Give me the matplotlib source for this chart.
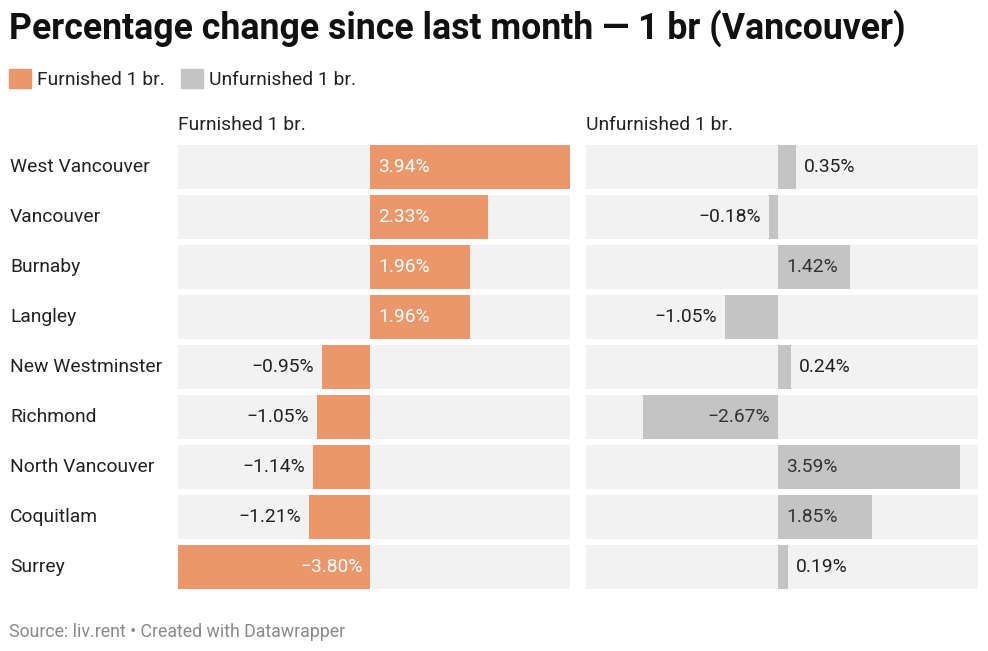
import matplotlib
matplotlib.use("Agg")
import matplotlib.pyplot as plt
from matplotlib.patches import Patch

plt.rcParams['font.family'] = ['Roboto', 'DejaVu Sans']

cities = ["West Vancouver", "Vancouver", "Burnaby", "Langley", "New Westminster",
          "Richmond", "North Vancouver", "Coquitlam", "Surrey"]
furnished = [3.94, 2.33, 1.96, 1.96, -0.95, -1.05, -1.14, -1.21, -3.80]
unfurnished = [0.35, -0.18, 1.42, -1.05, 0.24, -2.67, 3.59, 1.85, 0.19]
series_names = ["Furnished 1 br.", "Unfurnished 1 br."]

ORANGE = "#E9976B"
GRAY = "#C4C4C4"
BG = "#F2F2F2"
TXT = "#222222"
FS = 13.9

W, H = 988, 651
fig = plt.figure(figsize=(W / 100, H / 100), dpi=100)

def px_axes(x0, y0, x1, y1):
    return fig.add_axes([x0 / W, 1 - y1 / H, (x1 - x0) / W, (y1 - y0) / H])

xmin, xmax = -3.80, 3.94
top, bot = 142, 592
panels = [(178, 570, furnished, ORANGE, "white"),
          (586, 978, unfurnished, GRAY, "#333333")]

for i, (x0, x1, vals, col, intxt) in enumerate(panels):
    ax = px_axes(x0, top, x1, bot)
    ax.set_xlim(xmin, xmax)
    ax.set_ylim(len(cities) - 0.5, -0.5)
    ax.axis("off")
    ys = list(range(len(cities)))
    ax.barh(ys, [xmax - xmin] * len(cities), left=xmin, height=0.88, color=BG, zorder=0)
    ax.barh(ys, vals, left=0, height=0.88, color=col, zorder=1)
    pad = (xmax - xmin) / (x1 - x0) * 8
    for y, v in zip(ys, vals):
        lab = f"{v:.2f}%".replace("-", "\u2212")
        inside = abs(v) >= 1.4
        if v >= 0:
            if inside:
                ax.text(pad, y, lab, ha="left", va="center", color=intxt, fontsize=FS, zorder=2)
            else:
                ax.text(v + pad, y, lab, ha="left", va="center", color=TXT, fontsize=FS, zorder=2)
        else:
            if inside:
                ax.text(-pad, y, lab, ha="right", va="center", color=intxt, fontsize=FS, zorder=2)
            else:
                ax.text(v - pad, y, lab, ha="right", va="center", color=TXT, fontsize=FS, zorder=2)
    fig.text(x0 / W, 1 - 125 / H, series_names[i], ha="left", va="center", fontsize=FS, color=TXT)
    if i == 0:
        for y, c in zip(ys, cities):
            yp = top + (y + 0.5) * (bot - top) / len(cities)
            fig.text(10 / W, 1 - yp / H, c, ha="left", va="center", fontsize=FS, color=TXT)

fig.text(9 / W, 1 - 28 / H, "Percentage change since last month \u2014 1 br (Vancouver)",
         ha="left", va="center", fontsize=25.7, fontweight="bold", color="#111111")

handles = [Patch(color=ORANGE), Patch(color=GRAY)]
fig.legend(handles, series_names, loc="center left", bbox_to_anchor=(1 / W, 1 - 79 / H),
           ncol=2, frameon=False, fontsize=FS, handlelength=1.15, handleheight=1.15,
           handletextpad=0.3, columnspacing=0.85, labelcolor=TXT, borderaxespad=0)

fig.text(9 / W, 1 - 632 / H, "Source: liv.rent \u2022 Created with Datawrapper",
         ha="left", va="center", fontsize=12.8, color="#8a8a8a")

fig.savefig("out.png", dpi=100, facecolor="white")
